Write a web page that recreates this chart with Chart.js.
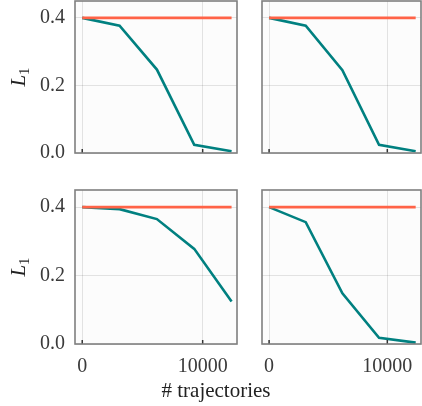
<!DOCTYPE html>
<html>
<head>
<meta charset="utf-8">
<script src="https://cdn.jsdelivr.net/npm/chart.js@4"></script>
<style>
    body { margin: 0; background: #fff; width: 422px; height: 406px; position: relative; overflow: hidden; }
    .panel { position: absolute; }
    .xlabel { position: absolute; left: 116px; width: 200px; top: 378px; text-align: center;
        font-family: "Liberation Serif", serif; font-size: 21px; color: #222; }
</style>
</head>
<body>
<div class="panel" style="left:0;top:0"><canvas id="p1" width="242" height="168"></canvas></div>
<div class="panel" style="left:245px;top:0"><canvas id="p2" width="177" height="168"></canvas></div>
<div class="panel" style="left:0;top:180px"><canvas id="p3" width="242" height="200"></canvas></div>
<div class="panel" style="left:245px;top:180px"><canvas id="p4" width="177" height="200"></canvas></div>
<div class="xlabel"># trajectories</div>
<script>
// values
const trajectories = [0, 3100, 6200, 9300, 12400];
const reference = [0.4, 0.4, 0.4, 0.4, 0.4];
const lossTopLeft = [0.4, 0.377, 0.247, 0.024, 0.005];
const lossTopRight = [0.4, 0.377, 0.245, 0.024, 0.005];
const lossBottomLeft = [0.4, 0.394, 0.365, 0.278, 0.124];
const lossBottomRight = [0.4, 0.356, 0.148, 0.018, 0.004];
const xTicks = [0, 10000];
const yTicks = [0.0, 0.2, 0.4];

const FONT = '"Liberation Serif", serif';

function toPoints(values) {
    return trajectories.map((x, i) => ({ x: x, y: values[i] }));
}

// keep chart area fixed: no extra room for label overflow
function noPadding(s) {
    s.paddingTop = 0;
    s.paddingBottom = 0;
    s.paddingLeft = 0;
    s.paddingRight = 0;
}

// plot background, box frame, inward x ticks and the L1 label
const framePlugin = {
    id: 'frame',
    beforeDraw(chart) {
        const a = chart.chartArea;
        const ctx = chart.ctx;
        ctx.save();
        ctx.fillStyle = '#fcfcfc';
        ctx.fillRect(a.left, a.top, a.right - a.left, a.bottom - a.top);
        ctx.restore();
    },
    afterDraw(chart, args, opts) {
        const a = chart.chartArea;
        const ctx = chart.ctx;
        ctx.save();
        ctx.strokeStyle = '#333';
        ctx.lineWidth = 1.5;
        xTicks.forEach(v => {
            const px = chart.scales.x.getPixelForValue(v);
            ctx.beginPath();
            ctx.moveTo(px, a.bottom);
            ctx.lineTo(px, a.bottom - 4);
            ctx.stroke();
        });
        ctx.strokeStyle = '#7f7f7f';
        ctx.lineWidth = 1.6;
        ctx.strokeRect(a.left, a.top, a.right - a.left, a.bottom - a.top);

        if (opts.ylabel) {
            const cy = (a.top + a.bottom) / 2;
            ctx.translate(25, cy);
            ctx.rotate(-Math.PI / 2);
            ctx.fillStyle = '#222';
            ctx.textBaseline = 'alphabetic';
            ctx.font = 'italic 21px ' + FONT;
            const wL = ctx.measureText('L').width;
            ctx.font = '15px ' + FONT;
            const w1 = ctx.measureText('1').width;
            const x0 = -(wL + w1) / 2;
            ctx.font = 'italic 21px ' + FONT;
            ctx.fillText('L', x0, 0);
            ctx.font = '15px ' + FONT;
            ctx.fillText('1', x0 + wL, 4);
        }
        ctx.restore();
    }
};

function createPanel(elementId, values, opt) {
    const ctx = document.getElementById(elementId);
    new Chart(ctx, {
        type: 'line',
        data: {
            datasets: [{
                data: toPoints(reference),
                borderColor: '#ff6347',
                borderWidth: 2.8,
                pointRadius: 0,
                tension: 0
            }, {
                data: toPoints(values),
                borderColor: '#008080',
                borderWidth: 2.6,
                pointRadius: 0,
                tension: 0
            }]
        },
        options: {
            responsive: false,
            animation: false,
            layout: { padding: { top: opt.top, right: opt.right, left: 0, bottom: 0 } },
            plugins: {
                legend: { display: false },
                tooltip: { enabled: false },
                frame: { ylabel: opt.ylabel }
            },
            scales: {
                x: {
                    type: 'linear',
                    min: -600,
                    max: 12850,
                    afterBuildTicks: s => { s.ticks = xTicks.map(v => ({ value: v })); },
                    afterFit: s => { s.height = opt.xh; noPadding(s); },
                    grid: { color: 'rgba(0,0,0,0.1)', drawTicks: false },
                    border: { display: false },
                    ticks: {
                        display: opt.xlabels,
                        padding: 11,
                        color: '#3a3a3a',
                        font: { family: FONT, size: 20 },
                        callback: v => String(v)
                    }
                },
                y: {
                    min: 0,
                    max: 0.45,
                    afterBuildTicks: s => { s.ticks = yTicks.map(v => ({ value: v })); },
                    afterFit: s => { s.width = opt.yw; noPadding(s); },
                    grid: { color: 'rgba(0,0,0,0.1)', drawTicks: false },
                    border: { display: false },
                    ticks: {
                        display: opt.ylabels,
                        padding: 10,
                        color: '#3a3a3a',
                        font: { family: FONT, size: 20 },
                        callback: v => v.toFixed(1)
                    }
                }
            }
        },
        plugins: [framePlugin]
    });
}

window.onload = () => {
    createPanel('p1', lossTopLeft, { top: 1, right: 5, xh: 15, yw: 75, xlabels: false, ylabels: true, ylabel: true });
    createPanel('p2', lossTopRight, { top: 1, right: 1, xh: 15, yw: 17, xlabels: false, ylabels: false, ylabel: false });
    createPanel('p3', lossBottomLeft, { top: 10, right: 5, xh: 36, yw: 75, xlabels: true, ylabels: true, ylabel: true });
    createPanel('p4', lossBottomRight, { top: 10, right: 1, xh: 36, yw: 17, xlabels: true, ylabels: false, ylabel: false });
};
</script>
</body>
</html>
